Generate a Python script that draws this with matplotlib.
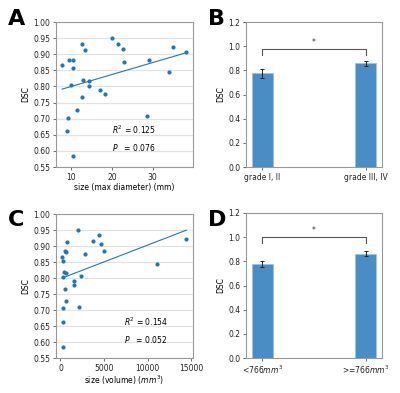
import numpy as np
import matplotlib
matplotlib.use("Agg")
import matplotlib.pyplot as plt

# panel A: DSC vs max diameter (mm)
diam = [7.87, 9.51, 10.41, 10.41, 12.62, 13.36, 9.92, 12.87, 14.51, 14.51,
        12.79, 11.56, 9.18, 9.02, 10.49, 17.05, 18.28, 20.16, 21.47, 22.70,
        23.03, 29.02, 28.69, 34.02, 34.84, 38.20]
dsc_a = [0.867, 0.881, 0.883, 0.856, 0.933, 0.914, 0.804, 0.820, 0.816, 0.801,
         0.766, 0.727, 0.703, 0.662, 0.583, 0.790, 0.778, 0.951, 0.932, 0.917,
         0.876, 0.883, 0.707, 0.844, 0.923, 0.906]

# panel C: DSC vs volume (mm^3)
vol = [197, 315, 551, 670, 788, 2047, 236, 394, 630, 1575, 1575, 2362, 2835,
       3740, 4370, 4606, 5000, 512, 591, 236, 2165, 236, 315, 11100, 14450]
dsc_c = [0.867, 0.854, 0.883, 0.880, 0.913, 0.951, 0.803, 0.819, 0.815, 0.790,
         0.778, 0.806, 0.875, 0.916, 0.933, 0.906, 0.884, 0.767, 0.728, 0.705,
         0.708, 0.663, 0.584, 0.843, 0.922]

stats_a = ["0.125", "0.076"]
stats_c = ["0.154", "0.052"]

# panel B / D bars
grade_labels = ["grade I, II", "grade III, IV"]
grade_mean = [0.775, 0.857]
grade_err = [0.036, 0.018]
size_labels = ["<766$mm^3$", ">=766$mm^3$"]
size_mean = [0.779, 0.863]
size_err = [0.025, 0.020]

fs = 5.5
blue = "#1f77b4"
gray = "#999999"

fig = plt.figure(figsize=(4, 3.93), dpi=100)
W, H = 400, 393


def px_axes(l, t, r, b):
    return fig.add_axes([l / W, 1 - b / H, (r - l) / W, (b - t) / H])


def style(ax):
    for s in ax.spines.values():
        s.set_color(gray)
        s.set_linewidth(0.8)
    ax.tick_params(labelsize=fs, length=2.5, width=0.6, color="#555555",
                   labelcolor="#222222", pad=1.5)


def scatter_panel(ax, x, y, xlabel, stats, tx, ty):
    style(ax)
    ax.set_axisbelow(True)
    ax.grid(axis="y", color="#e3e3e3", lw=0.9)
    ax.scatter(x, y, s=4, color=blue, zorder=3)
    x = np.asarray(x)
    k, b0 = np.polyfit(x, y, 1)
    xs = np.array([x.min(), x.max()])
    ax.plot(xs, k * xs + b0, color=blue, lw=0.8)
    ax.set_ylim(0.55, 1.0)
    ax.set_yticks(np.arange(0.55, 1.001, 0.05))
    ax.set_yticklabels(["%.2f" % v for v in np.arange(0.55, 1.001, 0.05)])
    ax.set_ylabel("DSC", fontsize=fs, labelpad=2)
    ax.set_xlabel(xlabel, fontsize=fs, labelpad=1)
    ax.text(tx, ty[0], "$R^2$ = " + stats[0], fontsize=fs)
    ax.text(tx, ty[1], "$P$   = " + stats[1], fontsize=fs)


def bar_panel(ax, labels, mean, err, bracket):
    style(ax)
    pos = np.arange(len(labels))
    ax.bar(pos, mean, width=0.2, color="#4a8cc4", edgecolor="#9cc3e4",
           linewidth=0.6, yerr=err, capsize=1.5,
           error_kw=dict(ecolor="#222222", elinewidth=0.7, capthick=0.7))
    ax.set_xlim(-0.16, 1.16)
    ax.set_ylim(0, 1.2)
    ax.set_yticks(np.arange(0, 1.21, 0.2))
    ax.set_yticklabels(["%.1f" % v for v in np.arange(0, 1.21, 0.2)])
    ax.set_xticks(pos)
    ax.set_xticklabels(labels)
    ax.set_ylabel("DSC", fontsize=fs, labelpad=2)
    ax.plot([0, 0, 1, 1], [bracket - 0.05, bracket, bracket, bracket - 0.05],
            color="#555555", lw=0.8)
    ax.text(0.5, bracket + 0.015, "*", ha="center", va="bottom",
            fontsize=fs, color="#333333")


axA = px_axes(56, 22, 192.5, 167)
scatter_panel(axA, diam, dsc_a, "size (max diameter) (mm)", stats_a,
              20, [0.652, 0.601])
axB = px_axes(246, 22, 382, 167)
bar_panel(axB, grade_labels, grade_mean, grade_err, 0.978)
axC = px_axes(56, 214, 192.5, 358)
scatter_panel(axC, vol, dsc_c, "size (volume) ($mm^3$)", stats_c,
              7300, [0.650, 0.598])
axD = px_axes(246, 213, 382, 358)
bar_panel(axD, size_labels, size_mean, size_err, 1.0)

for lab, x, y in [("A", 8, 9), ("B", 208, 9), ("C", 8, 210), ("D", 208, 210)]:
    fig.text(x / W, 1 - y / H, lab, fontsize=16, fontweight="bold",
             ha="left", va="top")

fig.savefig("out.png", dpi=100)
